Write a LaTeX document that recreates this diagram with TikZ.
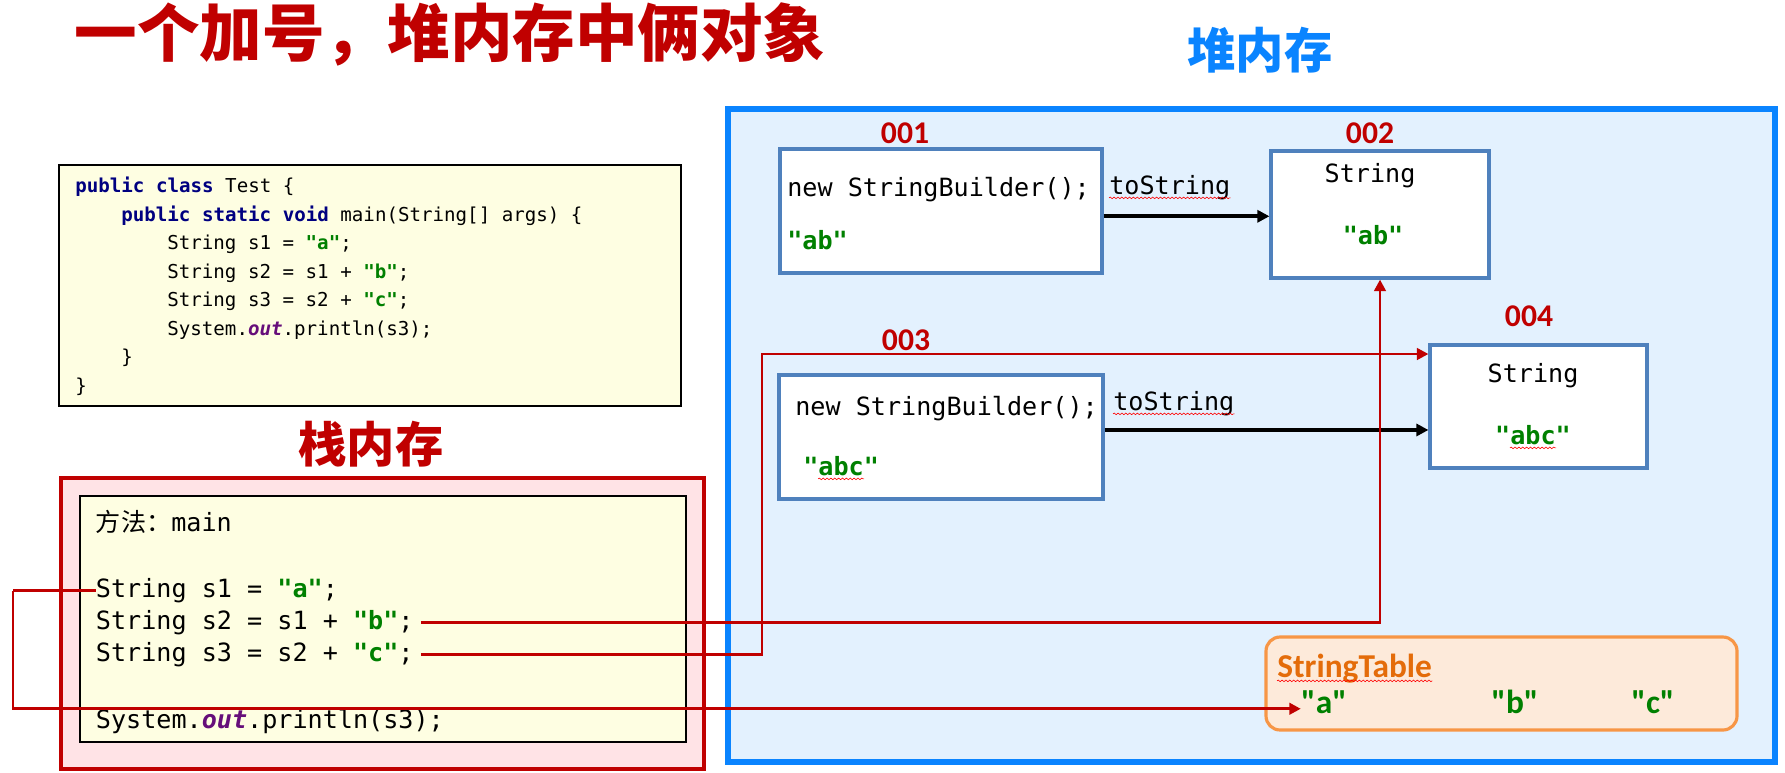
\documentclass[tikz,border=0pt]{standalone}
\usepackage{fontspec}
\setmonofont{DejaVu Sans Mono}
\newfontfamily\cjk{Noto Sans CJK SC}
\newfontfamily\lab{Carlito}[Ligatures=TeXOff]
\usetikzlibrary{fit,arrows.meta,decorations.pathmorphing,positioning}
\definecolor{darkred}{HTML}{C00000}
\definecolor{heapblue}{HTML}{0A84FF}
\definecolor{heapfill}{HTML}{E3F1FE}
\definecolor{stackfill}{HTML}{FFE3E6}
\definecolor{codefill}{HTML}{FEFEE2}
\definecolor{objblue}{HTML}{4F81BD}
\definecolor{tableline}{HTML}{F79646}
\definecolor{tablefill}{HTML}{FDEADA}
\definecolor{tabletext}{HTML}{E46C0A}
\definecolor{litgreen}{HTML}{008000}
\definecolor{kwnavy}{HTML}{000080}
\definecolor{fieldpurple}{HTML}{660E7A}
\newcommand\kw[1]{\textcolor{kwnavy}{\bfseries #1}}
\newcommand\lit[1]{\textcolor{litgreen}{\bfseries #1}}
\newcommand\fld[1]{\textcolor{fieldpurple}{\bfseries\itshape #1}}
\tikzset{
  heapbox/.style={draw=heapblue,line width=3.2pt,fill=heapfill,inner sep=0pt},
  stackbox/.style={draw=darkred,line width=2.8pt,fill=stackfill,inner sep=0pt},
  codebox/.style={draw=black,line width=.9pt,fill=codefill,inner sep=0pt},
  objbox/.style={draw=objblue,line width=1.8pt,fill=white,inner sep=0pt},
  tablebox/.style={draw=tableline,line width=1.8pt,fill=tablefill,rounded corners=8pt,inner sep=0pt},
  smallcode/.style={anchor=base west,inner sep=0pt,font=\ttfamily\fontsize{10.9}{13}\selectfont},
  bigcode/.style={anchor=base west,inner sep=0pt,font=\ttfamily\fontsize{14.3}{17}\selectfont},
  objtext/.style={anchor=base,inner sep=0pt,font=\ttfamily\fontsize{14.3}{17}\selectfont},
  addr/.style={text=darkred,inner sep=0pt,font=\lab\bfseries\fontsize{18}{20}\selectfont},
  poolstr/.style={anchor=base,inner sep=0pt,text=litgreen,font=\lab\bfseries\fontsize{19}{21}\selectfont},
  areatitle/.style={inner sep=0pt,font=\cjk\bfseries\fontsize{27.5}{30}\selectfont},
  refarr/.style={draw=darkred,line width=1.6pt,-{Triangle[length=2.3mm,width=2.3mm]}},
  callarr/.style={draw=black,line width=2.2pt,-{Triangle[length=2.4mm,width=2.4mm]}},
  spell/.style={draw=red,line width=.35pt,decorate,decoration={snake,amplitude=.45pt,segment length=2.2pt}}
}
\begin{document}
\begin{tikzpicture}[x=0.02cm,y=-0.02cm]
  \useasboundingbox (0,0) rectangle (1785,772);

  % title
  \node[text=darkred,inner sep=0pt,font=\cjk\bfseries\fontsize{35.6}{38}\selectfont] (title) at (450,34) {一个加号，堆内存中俩对象};

  % source code
  \node[codebox,fit={(59,165) (681,406)}] (src) {};
  \node[smallcode] (src1) at (75,192.5) {\kw{public class} Test \{};
  \node[smallcode] (src2) at (121,221) {\kw{public static void} main(String[] args) \{};
  \node[smallcode] (src3) at (167,249.5) {String s1 = \lit{"a"};};
  \node[smallcode] (src4) at (167,278) {String s2 = s1 + \lit{"b"};};
  \node[smallcode] (src5) at (167,306.5) {String s3 = s2 + \lit{"c"};};
  \node[smallcode] (src6) at (167,335) {System.\fld{out}.println(s3);};
  \node[smallcode] (src7) at (121,363.5) {\}};
  \node[smallcode] (src8) at (75,392) {\}};

  % stack
  \node[areatitle,text=darkred] (stacktitle) at (371,444) {栈内存};
  \node[stackbox,fit={(61,478) (704,769)}] (stack) {};
  \node[codebox,fit={(80,496) (686,742)}] (frame) {};
  \node[bigcode] (meth) at (95.6,531.5) {{\cjk 方法：}main};
  \node[bigcode] (s1) at (95.6,597.5) {String s1 = \lit{"a"};};
  \node[bigcode] (s2) at (95.6,629.5) {String s2 = s1 + \lit{"b"};};
  \node[bigcode] (s3) at (95.6,661) {String s3 = s2 + \lit{"c"};};
  \node[bigcode] (pr) at (95.6,728.5) {System.\fld{out}.println(s3);};

  % heap
  \node[areatitle,text=heapblue] (heaptitle) at (1260,50) {堆内存};
  \node[heapbox,fit={(728,109) (1775,762)}] (heap) {};

  \node[objbox,fit={(780,149) (1102,273)}] (sb1) {};
  \node[objbox,fit={(1271,151) (1489,278)}] (str2) {};
  \node[objbox,fit={(779,375) (1103,499)}] (sb2) {};
  \node[objbox,fit={(1430,345) (1647,468)}] (str4) {};
  \foreach \n/\x/\y in {001/905/133,002/1370/133,003/906/340,004/1529/316}
    \node[addr] (addr\n) at (\x,\y) {\n};

  \node[bigcode] (sb1new) at (787,196) {new StringBuilder();};
  \node[bigcode] (sb1val) at (787,249) {\lit{"ab"}};
  \node[objtext] (str2type) at (1370,182) {String};
  \node[objtext] (str2val) at (1373,244) {\lit{"ab"}};
  \node[bigcode] (sb2new) at (795,415) {new StringBuilder();};
  \node[bigcode] (sb2val) at (803,475) {\lit{"abc"}};
  \node[objtext] (str4type) at (1533,382) {String};
  \node[objtext] (str4val) at (1533,444) {\lit{"abc"}};
  \node[bigcode] (ts1) at (1109,194) {toString};
  \node[bigcode] (ts2) at (1113,410) {toString};

  % string table
  \node[tablebox,fit={(1266,637) (1737,730)}] (table) {};
  \node[anchor=base west,inner sep=0pt,text=tabletext,font=\lab\bfseries\fontsize{19}{21}\selectfont] (tabname) at (1277,677) {StringTable};
  \foreach \k/\s/\x in {A/a/1324,B/b/1515,C/c/1653}
    \node[poolstr] (tab\k) at (\x,713) {"\s"};

  % spell check marks
  \foreach \t in {ts1,ts2,tabname}
    \draw[spell] ([yshift=-2.2pt]\t.base west) -- ([yshift=-2.2pt]\t.base east);
  \foreach \t in {sb2val,str4val}
    \draw[spell] ([xshift=8.6pt,yshift=-2.2pt]\t.base west) -- ([xshift=-8.6pt,yshift=-2.2pt]\t.base east);

  % toString calls
  \draw[callarr] ([yshift=-3pt]sb1.east) -- ([yshift=-3pt]sb1.east -| str2.west);
  \draw[callarr] ([yshift=4pt]sb2.east) -- ([yshift=4pt]sb2.east -| str4.west);

  % references
  \coordinate (lft) at (13,592);
  \coordinate (bend3) at (762,354);
  \draw[refarr,-] (s1.west) -- (s1.west -| lft);
  \draw[refarr] (s1.west -| lft) |- ([yshift=-4pt]tabA.west);
  \draw[refarr] ([xshift=4pt]s2.east) -| (str2.south);
  \draw[refarr] ([xshift=4pt]s3.east) -| (bend3) -- (bend3 -| str4.west);
\end{tikzpicture}
\end{document}
